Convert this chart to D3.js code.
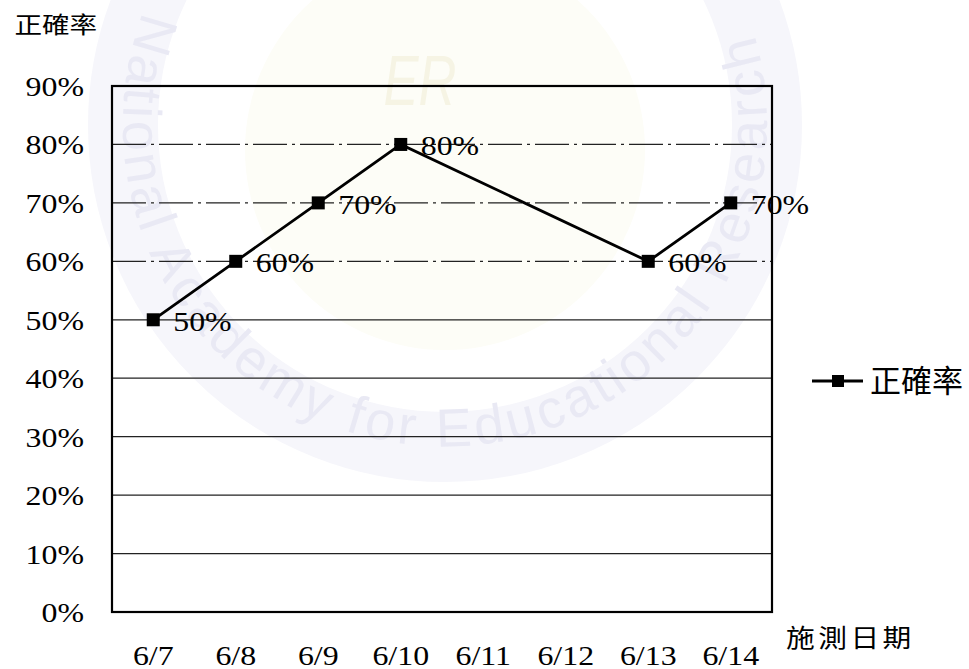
<!DOCTYPE html>
<html><head><meta charset="utf-8">
<script src="https://cdn.jsdelivr.net/npm/d3@7"></script>
<style>body{margin:0;background:#fff}svg{display:block}</style>
</head><body>
<script>
// ---- data ----
const categories = ["6/7","6/8","6/9","6/10","6/11","6/12","6/13","6/14"];
const accuracy = [0.5, 0.6, 0.7, 0.8, null, null, 0.6, 0.7];
const yTicks = [0,0.1,0.2,0.3,0.4,0.5,0.6,0.7,0.8,0.9];
const seriesName = "正確率";
const yTitle = "正確率";
const xTitle = "施測日期";
const watermark = "National Academy for Educational Research";

const W = 969, H = 669;
const m = {left:112, top:86, right:969-772, bottom:669-612};
const svg = d3.select("body").append("svg").attr("width",W).attr("height",H);

// faint watermark
const wm = svg.append("g");
wm.append("circle").attr("cx",445).attr("cy",125).attr("r",322)
  .attr("fill","none").attr("stroke","#f6f6fb").attr("stroke-width",70);
wm.append("circle").attr("cx",445).attr("cy",150).attr("r",200)
  .attr("fill","#fdfdf7");
wm.append("text").attr("x",420).attr("y",105).attr("text-anchor","middle")
  .attr("font-family","Liberation Sans").attr("font-size",70).attr("font-style","italic")
  .attr("fill","#f6f4e4").attr("transform","translate(420,0) scale(0.75,1) translate(-420,0)").text("ER");
wm.append("path").attr("id","wmArc").attr("fill","none")
  .attr("d","M 148 0 A 322 322 0 1 0 742 0");
wm.append("text").attr("font-family","Liberation Sans").attr("font-size",54)
  .attr("letter-spacing",4)
  .attr("fill","#e9e9f4").append("textPath").attr("href","#wmArc")
  .attr("startOffset","1%").text(watermark);

const x = d3.scaleBand().domain(categories).range([m.left, W-m.right]);
const y = d3.scaleLinear().domain([0,0.9]).range([H-m.bottom, m.top]);
const fmt = d3.format(".0%");
const serif = "Liberation Serif, Times New Roman, serif";
const sx = 1.18;

// gridlines
svg.append("g").selectAll("line").data(yTicks.filter(t=>t>0 && t<0.9)).join("line")
  .attr("x1",m.left).attr("x2",W-m.right)
  .attr("y1",d=>y(d)).attr("y2",d=>y(d))
  .attr("stroke","#222").attr("stroke-width",1.3)
  .attr("stroke-dasharray",d=>d>=0.6?"34,5,3,5":null);

// plot border
svg.append("rect").attr("x",m.left).attr("y",m.top)
  .attr("width",W-m.left-m.right).attr("height",H-m.top-m.bottom)
  .attr("fill","none").attr("stroke","#000").attr("stroke-width",2.2);

// y axis
const yAxis = svg.append("g").attr("transform",`translate(${m.left},0)`)
  .call(d3.axisLeft(y).tickValues(yTicks).tickFormat(fmt).tickSize(0).tickPadding(0));
yAxis.select(".domain").remove();
yAxis.selectAll("text").attr("font-family",serif).attr("font-size",27).attr("fill","#000")
  .attr("text-anchor","end").attr("dy","0.35em")
  .each(function(){const t=d3.select(this);t.attr("x",null);t.attr("transform",`translate(-28,0) scale(${sx},1)`);});

// x axis
const xAxis = svg.append("g").attr("transform",`translate(0,${H-m.bottom})`)
  .call(d3.axisBottom(x).tickSize(0).tickPadding(0));
xAxis.select(".domain").remove();
xAxis.selectAll("text").attr("font-family",serif).attr("font-size",27).attr("fill","#000")
  .attr("dy",null).attr("y",null)
  .attr("transform",`translate(0,53) scale(${sx},1)`);

// titles
svg.append("text").attr("x",12).attr("y",33).attr("font-family","Noto Sans CJK TC")
  .attr("font-size",23).attr("fill","#000").attr("transform","scale(1.2,1)").text(yTitle);
svg.append("text").attr("x",786/1.15).attr("y",647).attr("font-family","Noto Sans CJK TC")
  .attr("font-size",25).attr("fill","#000").attr("letter-spacing",3)
  .attr("transform","scale(1.15,1)").text(xTitle);

// series
const pts = categories.map((c,i)=>({c,v:accuracy[i]})).filter(d=>d.v!=null);
const cx = d=>x(d.c)+x.bandwidth()/2;
svg.append("path").datum(pts)
  .attr("d",d3.line().x(cx).y(d=>y(d.v)))
  .attr("fill","none").attr("stroke","#000").attr("stroke-width",2.8);
const ms = 13;
svg.append("g").selectAll("rect").data(pts).join("rect")
  .attr("x",d=>cx(d)-ms/2).attr("y",d=>y(d.v)-ms/2).attr("width",ms).attr("height",ms).attr("fill","#000");
svg.append("g").selectAll("text").data(pts).join("text")
  .attr("font-family",serif).attr("font-size",27).attr("fill","#000")
  .attr("transform",d=>`translate(${cx(d)+20},${y(d.v)+11}) scale(${sx},1)`)
  .text(d=>fmt(d.v));

// legend
const lg = svg.append("g").attr("transform","translate(812,381)");
lg.append("line").attr("x1",0).attr("x2",51).attr("stroke","#000").attr("stroke-width",3);
lg.append("rect").attr("x",20).attr("y",-6).attr("width",12).attr("height",12).attr("fill","#000");
lg.append("text").attr("x",58).attr("y",11).attr("font-family","Noto Sans CJK TC")
  .attr("font-size",31).attr("fill","#000").text(seriesName);
</script>
</body></html>
